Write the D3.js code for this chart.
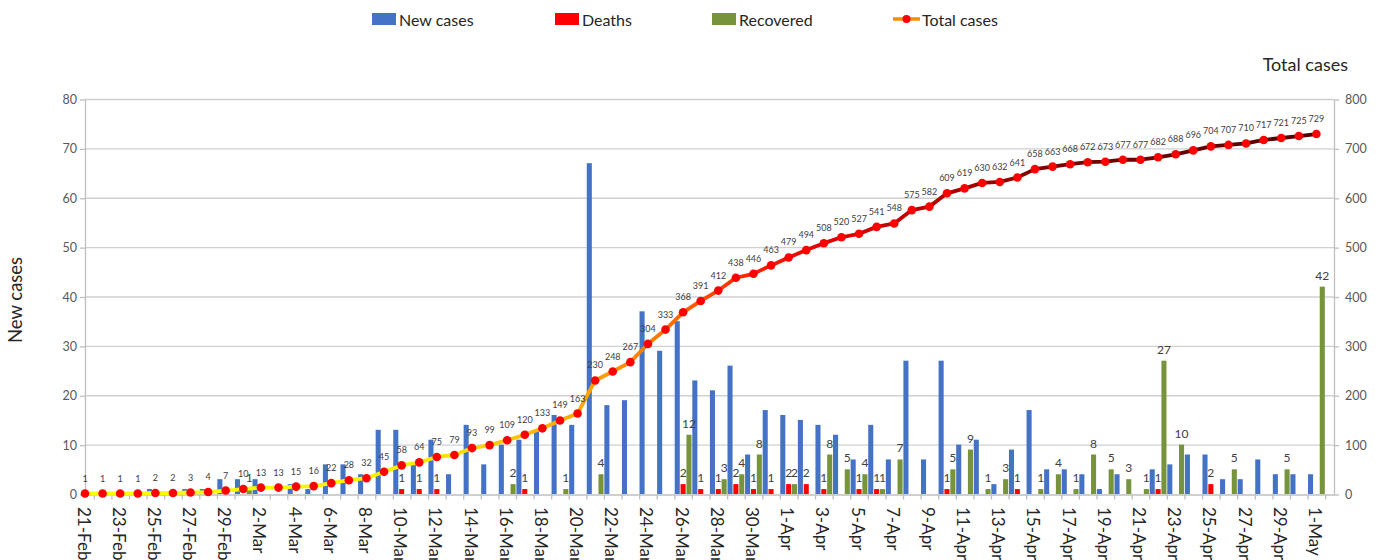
<!DOCTYPE html>
<html><head><meta charset="utf-8">
<script src="https://cdn.jsdelivr.net/npm/d3@7"></script>
<style>
html,body{margin:0;padding:0;background:#fff;}
svg{display:block;font-family:Lato,"Open Sans",sans-serif;}
</style></head><body>
<svg id="chart" width="1382" height="560"></svg>
<script>
// ---------- data ----------
const dates = ["21-Feb","22-Feb","23-Feb","24-Feb","25-Feb","26-Feb","27-Feb","28-Feb","29-Feb",
"1-Mar","2-Mar","3-Mar","4-Mar","5-Mar","6-Mar","7-Mar","8-Mar","9-Mar","10-Mar",
"11-Mar","12-Mar","13-Mar","14-Mar","15-Mar","16-Mar","17-Mar","18-Mar","19-Mar","20-Mar",
"21-Mar","22-Mar","23-Mar","24-Mar","25-Mar","26-Mar","27-Mar","28-Mar","29-Mar","30-Mar","31-Mar",
"1-Apr","2-Apr","3-Apr","4-Apr","5-Apr","6-Apr","7-Apr","8-Apr","9-Apr","10-Apr",
"11-Apr","12-Apr","13-Apr","14-Apr","15-Apr","16-Apr","17-Apr","18-Apr","19-Apr","20-Apr",
"21-Apr","22-Apr","23-Apr","24-Apr","25-Apr","26-Apr","27-Apr","28-Apr","29-Apr","30-Apr","1-May"];
const totalCases = [1,1,1,1,2,2,3,4,7,10,13,13,15,16,22,28,32,45,58,64,75,79,93,99,109,120,133,149,163,
230,248,267,304,333,368,391,412,438,446,463,479,494,508,520,527,541,548,575,582,609,
619,630,632,641,658,663,668,672,673,677,677,682,688,696,704,707,710,717,721,725,729];
const newCases = [1,0,0,0,1,0,1,1,3,3,3,0,2,1,6,6,4,13,13,6,11,4,14,6,10,11,13,16,14,
67,18,19,37,29,35,23,21,26,8,17,16,15,14,12,7,14,7,27,7,27,10,11,2,9,17,5,5,4,1,4,0,
5,6,8,8,3,3,7,4,4,4];
const deaths = [0,0,0,0,0,0,0,0,0,0,0,0,0,0,0,0,0,0,1,1,1,0,0,0,0,1,0,0,0,
0,0,0,0,0,2,1,1,2,1,1,2,2,1,0,1,1,0,0,0,1,0,0,0,1,0,0,0,0,0,0,0,
1,0,0,2,0,0,0,0,0,0];
const recovered = [0,0,0,0,0,0,0,0,0,1,0,0,0,0,0,0,0,0,0,0,0,0,0,0,2,0,0,1,0,
4,0,0,0,0,12,0,3,4,8,0,2,0,8,5,4,1,7,0,0,5,9,1,3,0,1,4,1,8,5,3,1,
27,10,0,0,5,0,0,5,0,42];
const leftTicks = [0,10,20,30,40,50,60,70,80];
const rightTicks = [0,100,200,300,400,500,600,700,800];
const legendNames = ["New cases","Deaths","Recovered","Total cases"];
const barColors = ["#4472C4","#FF0000","#77933C"];

// ---------- layout ----------
const svg = d3.select("#chart");
const P = {left:85, right:1334, top:99, bottom:494};
const x = d3.scaleLinear().domain([0, dates.length]).range([P.left, P.right]);
const step = x(1) - x(0);
const yL = d3.scaleLinear().domain([0,80]).range([P.bottom, P.top]);
const yR = d3.scaleLinear().domain([0,800]).range([P.bottom, P.top]);

// gradient for line
const defs = svg.append("defs");
const grad = defs.append("linearGradient").attr("id","lineGrad")
  .attr("gradientUnits","userSpaceOnUse")
  .attr("x1", x(0)).attr("x2", x(dates.length-1)).attr("y1",0).attr("y2",0);
[[0,"#FFFF00"],[0.27,"#FFEE00"],[0.345,"#FFC400"],[0.415,"#FFA000"],[0.485,"#FF6400"],
 [0.53,"#FF2A00"],[0.6,"#E00000"],[0.7,"#B00000"],[0.79,"#7A0000"],[1,"#550000"]]
 .forEach(s=>grad.append("stop").attr("offset",s[0]).attr("stop-color",s[1]));
defs.append("clipPath").attr("id","plotClip").append("rect")
  .attr("x",P.left).attr("y",0).attr("width",P.right-P.left).attr("height",P.bottom+1);

// gridlines
svg.append("g").selectAll("line").data(leftTicks.slice(1)).join("line")
  .attr("x1",P.left).attr("x2",P.right)
  .attr("y1",d=>yL(d)+0.5).attr("y2",d=>yL(d)+0.5)
  .attr("stroke","#d0d0d0").attr("stroke-width",1.3);

// left axis
const gL = svg.append("g").attr("transform",`translate(${P.left},0.5)`)
  .call(d3.axisLeft(yL).tickValues(leftTicks).tickSize(5).tickSizeOuter(0).tickPadding(3));
// right axis
const gR = svg.append("g").attr("transform",`translate(${P.right},0.5)`)
  .call(d3.axisRight(yR).tickValues(rightTicks).tickSize(5).tickSizeOuter(0).tickPadding(6));
[gL,gR].forEach(g=>{
  g.select(".domain").attr("stroke","#bfbfbf").attr("stroke-width",1.3);
  g.selectAll(".tick line").attr("stroke","#bfbfbf").attr("stroke-width",1.3);
  g.selectAll(".tick text").attr("fill","#595959").style("font-size","12.5px").style("font-family","Lato");
});
// bottom axis (ticks between categories)
const gB = svg.append("g").attr("transform",`translate(0,${P.bottom+0.5})`)
  .call(d3.axisBottom(x).tickValues(d3.range(0.5, dates.length, 1)).tickFormat("").tickSize(5).tickSizeOuter(0));
gB.select(".domain").attr("stroke","#bfbfbf").attr("stroke-width",1.3);
gB.selectAll(".tick line").attr("stroke","#bfbfbf").attr("stroke-width",1.3);

// category labels
svg.append("g").selectAll("text").data(dates.map((d,i)=>({d,i})).filter(o=>o.i%2===0)).join("text")
  .attr("transform",o=>`translate(${x(o.i)-1},507) rotate(90)`)
  .attr("dominant-baseline","central")
  .attr("fill","#262626").style("font-size","17px")
  .text(o=>o.d);

// bars
const bw = step/3;
const barG = svg.append("g").attr("clip-path","url(#plotClip)");
[newCases, deaths, recovered].forEach((arr,k)=>{
  barG.append("g").selectAll("rect").data(arr).join("rect")
    .attr("x",(d,i)=>x(i) + (k-1.5)*bw + 0.4)
    .attr("width", bw-0.8)
    .attr("y", d=>yL(d))
    .attr("height", d=>yL(0)-yL(d))
    .attr("fill", barColors[k]);
});
// bar labels (deaths, recovered)
[[deaths,0],[recovered,1]].forEach(([arr,k])=>{
  svg.append("g").selectAll("text").data(arr.map((v,i)=>({v,i})).filter(o=>o.v>0)).join("text")
    .attr("x",o=>x(o.i) + k*bw)
    .attr("y",o=>yL(o.v)-7)
    .attr("text-anchor","middle")
    .attr("fill","#404040").style("font-size","12px")
    .text(o=>o.v);
});

// total cases line
const line = d3.line().x((d,i)=>x(i)).y(d=>yR(d));
svg.append("path").datum(totalCases).attr("d",line)
  .attr("fill","none").attr("stroke","url(#lineGrad)").attr("stroke-width",3.8)
  .attr("stroke-linejoin","round");
svg.append("g").selectAll("circle").data(totalCases).join("circle")
  .attr("cx",(d,i)=>x(i)).attr("cy",d=>yR(d)).attr("r",4.3).attr("fill","#FF0000");
svg.append("g").selectAll("text").data(totalCases).join("text")
  .attr("x",(d,i)=>x(i)).attr("y",d=>yR(d)-12)
  .attr("text-anchor","middle").attr("fill","#404040").style("font-size","9px")
  .text(d=>d);

// axis titles
svg.append("text").attr("transform","translate(22,300) rotate(-90)")
  .attr("text-anchor","middle").attr("fill","#262626").style("font-size","18.5px").text("New cases");
svg.append("text").attr("x",1348).attr("y",71).attr("text-anchor","end")
  .attr("fill","#262626").style("font-size","18px").text("Total cases");

// legend
const lg = svg.append("g");
const legendItems = [
  {name:legendNames[0], type:"rect", color:barColors[0], x:372},
  {name:legendNames[1], type:"rect", color:barColors[1], x:555},
  {name:legendNames[2], type:"rect", color:barColors[2], x:712},
  {name:legendNames[3], type:"line", color:"#FF0000", x:893}
];
legendItems.forEach(it=>{
  if(it.type==="rect"){
    lg.append("rect").attr("x",it.x).attr("y",13).attr("width",24).attr("height",12).attr("fill",it.color);
  } else {
    lg.append("line").attr("x1",it.x).attr("x2",it.x+27).attr("y1",19).attr("y2",19)
      .attr("stroke","#FF8C00").attr("stroke-width",3.5);
    lg.append("circle").attr("cx",it.x+13.5).attr("cy",19).attr("r",4).attr("fill","#FF0000");
  }
  lg.append("text").attr("x",it.x + (it.type==="rect"?27:29)).attr("y",19)
    .attr("dominant-baseline","central").attr("fill","#262626").style("font-size","16px").text(it.name);
});
</script>
</body></html>
